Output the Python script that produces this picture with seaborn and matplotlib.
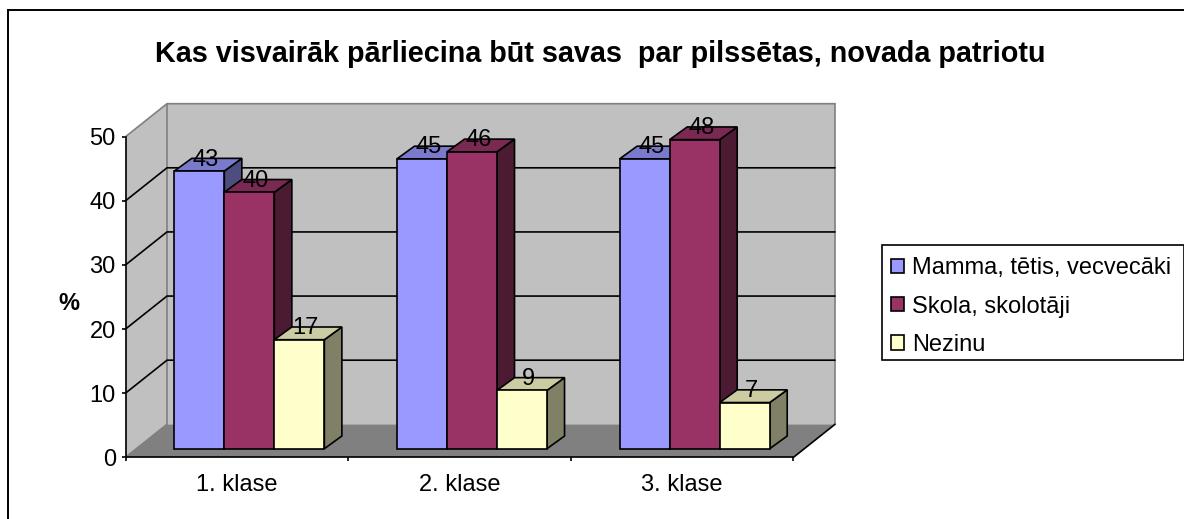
import numpy as np
import pandas as pd
import matplotlib
matplotlib.use("Agg")
import matplotlib.pyplot as plt
from matplotlib.patches import Polygon, Rectangle
from matplotlib.ticker import FixedLocator, NullFormatter
import seaborn as sns

title = "Kas visvairāk pārliecina būt savas  par pilssētas, novada patriotu"
categories = ["1. klase", "2. klase", "3. klase"]
series_names = ["Mamma, tētis, vecvecāki", "Skola, skolotāji", "Nezinu"]
mamma = [43.3, 45.2, 45.2]
skola = [40.0, 46.3, 48.2]
nezinu = [17.0, 9.1, 7.2]
colors = ["#9999FF", "#993366", "#FFFFCC"]

W, H = 1184, 519
sns.set_theme(style="white")
plt.rcParams["font.family"] = ["Liberation Sans", "DejaVu Sans"]
plt.rcParams["text.color"] = "black"

df = pd.DataFrame({
    "klase": categories * 3,
    "grupa": np.repeat(series_names, 3),
    "v": mamma + skola + nezinu,
})

fig = plt.figure(figsize=(W / 100, H / 100), dpi=100, facecolor="white")
L, R, T, B = 125.5, 793.5, 136.7, 457.3
ax = fig.add_axes([L / W, 1 - B / H, (R - L) / W, (B - T) / H])
ax.set_facecolor("none")

sns.barplot(data=df, x="klase", y="v", hue="grupa", order=categories,
            hue_order=series_names, palette=colors, saturation=1,
            width=0.674, gap=0, edgecolor="black", linewidth=1.2, ax=ax, errorbar=None)
ax.set_xlim(-0.5, 2.5)
ax.set_ylim(0, 50)

# pixel-to-data scales for the oblique projection
px = 3 / (R - L)
py = 50 / (B - T)
wall_dx, wall_dy = 41.5 * px, 33 * py      # depth of the chart box
bar_ox, bar_oy = 12.5 * px, 8.6 * py       # front plane of the bars
bar_dx, bar_dy = 17.5 * px, 12.7 * py      # depth of one bar

x0, x1 = -0.5, 2.5
WALL = "#C0C0C0"; EDGE = "#808080"; FLOOR = "#808080"
LW = 1.2

def poly(xs, ys, z, fc="none", ec="none", lw=0):
    ax.add_patch(Polygon(np.column_stack([xs, ys]), closed=True, facecolor=fc,
                         edgecolor=ec, linewidth=lw, zorder=z, clip_on=False,
                         joinstyle="miter"))

# walls and floor
poly([x0, x0 + wall_dx, x0 + wall_dx, x0], [0, wall_dy, 50 + wall_dy, 50], 0.5, WALL)
poly([x0 + wall_dx, x1 + wall_dx, x1 + wall_dx, x0 + wall_dx],
     [wall_dy, wall_dy, 50 + wall_dy, 50 + wall_dy], 0.5, WALL)
poly([x0, x1, x1 + wall_dx, x0 + wall_dx], [0, 0, wall_dy, wall_dy], 0.6, FLOOR)

# wall outlines
ax.plot([x0, x0 + wall_dx, x1 + wall_dx, x1 + wall_dx], [50, 50 + wall_dy, 50 + wall_dy, wall_dy],
        color=EDGE, lw=LW, zorder=1, clip_on=False, solid_joinstyle="miter")
ax.plot([x0, x0 + wall_dx, x0 + wall_dx], [0, wall_dy, 50 + wall_dy],
        color=EDGE, lw=LW, zorder=1, clip_on=False, solid_joinstyle="miter")
ax.plot([x1, x1 + wall_dx], [0, wall_dy], color="black", lw=LW, zorder=1, clip_on=False)

# gridlines
for g in [10, 20, 30, 40]:
    ax.plot([x0, x0 + wall_dx, x1 + wall_dx], [g, g + wall_dy, g + wall_dy],
            color="black", lw=LW, zorder=1, clip_on=False, solid_joinstyle="miter")

def shade(c, f):
    r = np.array(matplotlib.colors.to_rgb(c)) * f
    return tuple(r)

# extrude bars
for i, cont in enumerate(ax.containers):
    c = colors[i]
    for bar, val in zip(cont.patches, cont.datavalues):
        xa = bar.get_x() + bar_ox
        xb = xa + bar.get_width()
        y0 = bar_oy
        y1 = bar_oy + val
        bar.set_x(xa)
        bar.set_y(y0)
        bar.set_zorder(3 + i * 0.1 + 0.02)
        bar.set_clip_on(False)
        bar.set_joinstyle("miter")
        z = 3 + i * 0.1
        poly([xb, xb + bar_dx, xb + bar_dx, xb], [y0, y0 + bar_dy, y1 + bar_dy, y1], z,
             shade(c, 0.5), "black", LW)
        poly([xa, xa + bar_dx, xb + bar_dx, xb], [y1, y1 + bar_dy, y1 + bar_dy, y1], z,
             shade(c, 0.8), "black", LW)
        ax.text((xa + xb) / 2 + 6.5 * px, y1 + 11.5 * py, f"{val:.0f}", ha="center", va="center",
                fontsize=17, color="black", zorder=10, clip_on=False)

# axes
for s in ["top", "right"]:
    ax.spines[s].set_visible(False)
for s in ["left", "bottom"]:
    ax.spines[s].set_color("black")
    ax.spines[s].set_linewidth(LW)
    ax.spines[s].set_zorder(2)
ax.set_yticks([0, 10, 20, 30, 40, 50])
ax.tick_params(axis="y", which="major", left=True, length=3, width=LW, color="black",
               labelsize=17, pad=4, labelcolor="black")
ax.tick_params(axis="x", which="major", bottom=False, labelsize=17, pad=6, labelcolor="black")
ax.xaxis.set_minor_locator(FixedLocator([-0.5, 0.5, 1.5, 2.5]))
ax.xaxis.set_minor_formatter(NullFormatter())
ax.tick_params(axis="x", which="minor", bottom=True, length=3, width=LW, color="black")
ax.set_xlabel("")
ax.set_ylabel("%", rotation=0, fontweight="bold", fontsize=17, color="black", va="center", ha="center")
ax.yaxis.set_label_coords((69 - L) / (R - L), (B - 303) / (B - T))

# legend: entries plus a separately sized box
handles, labels = ax.get_legend_handles_labels()
leg = ax.legend(handles, labels, loc="upper left",
                bbox_to_anchor=(882.7 / W, 1 - 249 / H), bbox_transform=fig.transFigure,
                fontsize=17, frameon=False,
                borderaxespad=0, borderpad=0.35, labelspacing=0.69, handlelength=0.55,
                handleheight=0.55, handletextpad=0.33)
leg.set_zorder(20)
fig.add_artist(Rectangle((881.7 / W, 1 - 360 / H), 301.8 / W, 115 / H, transform=fig.transFigure,
                         facecolor="none", edgecolor="black", linewidth=LW))

# title and chart frame
fig.text(600 / W, 1 - 54 / H, title, ha="center", va="center", fontsize=20.7, fontweight="bold", color="black")
fig.add_artist(Rectangle((8 / W, -0.1), 1.2, 1.1 - 10 / H, transform=fig.transFigure,
                         facecolor="none", edgecolor="black", linewidth=1.4, zorder=-1))

fig.savefig("out.png", dpi=100)
